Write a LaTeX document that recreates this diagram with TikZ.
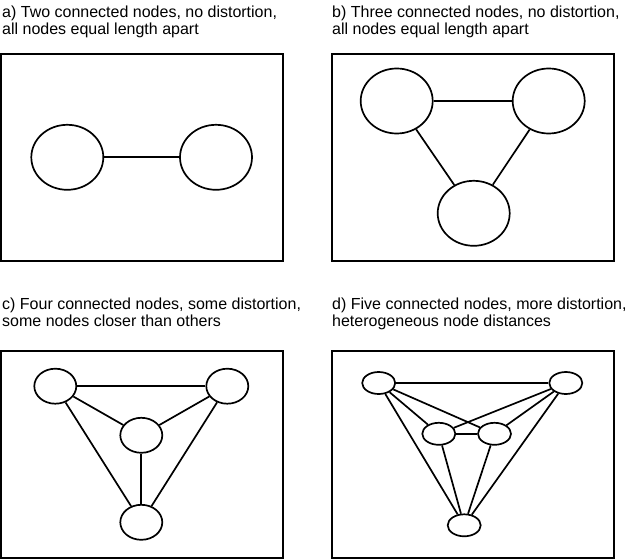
\documentclass[tikz,border=0pt]{standalone}
\usepackage{fontspec}
\setmainfont{Liberation Sans}
\usetikzlibrary{shapes.geometric}
\begin{document}
\begin{tikzpicture}[x=1pt,y=-1pt,
  panel/.style={draw=black,line width=2pt},
  bignode/.style={ellipse,draw=black,line width=1.7pt,minimum width=72pt,minimum height=65pt,inner sep=0pt},
  midnode/.style={ellipse,draw=black,line width=1.7pt,minimum width=42pt,minimum height=35pt,inner sep=0pt},
  smallnode/.style={ellipse,draw=black,line width=1.7pt,minimum width=33pt,minimum height=22pt,inner sep=0pt},
  edge/.style={draw=black,line width=1.7pt},
  caption/.style={anchor=base west,inner sep=0pt,font=\fontsize{16}{17}\selectfont}
]
\useasboundingbox (0,0) rectangle (629,559);
% captions
\node[caption] (ta1) at (2,18) {a) Two connected nodes, no distortion,};
\node[caption] (ta2) at (2,35) {all nodes equal length apart};
\node[caption] (tb1) at (332,18) {b) Three connected nodes, no distortion,};
\node[caption] (tb2) at (332,35) {all nodes equal length apart};
\node[caption] (tc1) at (2,309) {c) Four connected nodes, some distortion,};
\node[caption] (tc2) at (2,326) {some nodes closer than others};
\node[caption] (td1) at (332,309) {d) Five connected nodes, more distortion,};
\node[caption] (td2) at (332,326) {heterogeneous node distances};
% panels
\draw[panel] (1,54) rectangle (283,261);
\draw[panel] (332,54) rectangle (614,261);
\draw[panel] (1,351) rectangle (283,558);
\draw[panel] (332,351) rectangle (614,558);
% a
\node[bignode] (a1) at (67.3,157.3) {};
\node[bignode] (a2) at (216,157.3) {};
\draw[edge] (a1) -- (a2);
% b
\node[bignode] (b1) at (396.7,101) {};
\node[bignode] (b2) at (548.7,101) {};
\node[bignode] (b3) at (473.7,213.3) {};
\draw[edge] (b1) -- (b2);
\draw[edge] (b1) -- (b3);
\draw[edge] (b2) -- (b3);
% c
\node[midnode] (c1) at (55.3,386.2) {};
\node[midnode] (c2) at (227.3,386.2) {};
\node[midnode] (c3) at (141.3,435.3) {};
\node[midnode] (c4) at (141.3,522.3) {};
\draw[edge] (c1) -- (c2);
\draw[edge] (c1) -- (c3);
\draw[edge] (c2) -- (c3);
\draw[edge] (c1) -- (c4);
\draw[edge] (c2) -- (c4);
\draw[edge] (c3) -- (c4);
% d
\node[smallnode] (d1) at (378.7,383) {};
\node[smallnode] (d2) at (565.8,383) {};
\node[smallnode] (d3) at (438.8,433.8) {};
\node[smallnode] (d4) at (494.5,433.8) {};
\node[smallnode] (d5) at (464.2,525.3) {};
\draw[edge] (d1) -- (d2);
\draw[edge] (d1) -- (d3);
\draw[edge] (d1) -- (d4);
\draw[edge] (d2) -- (d3);
\draw[edge] (d2) -- (d4);
\draw[edge] (d3) -- (d4);
\draw[edge] (d1) -- (d5);
\draw[edge] (d2) -- (d5);
\draw[edge] (d3) -- (d5);
\draw[edge] (d4) -- (d5);
\end{tikzpicture}
\end{document}
